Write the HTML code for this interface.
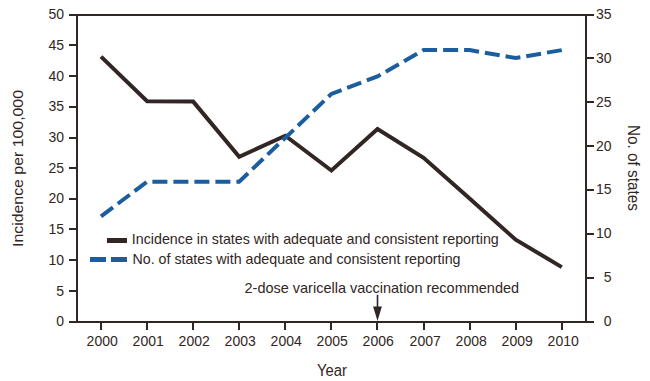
<!DOCTYPE html>
<html><head><meta charset="utf-8">
<style>
html,body{margin:0;padding:0;background:#fff;width:650px;height:381px;overflow:hidden}
svg{display:block}
text{font-family:"Liberation Sans",sans-serif;fill:#312624}
</style></head>
<body>
<svg width="650" height="381" viewBox="0 0 650 381">
<g stroke="#312624" stroke-width="2" fill="none" shape-rendering="crispEdges">
  <!-- frame -->
  <path d="M69 15H594M69 322H594M77 15V322M586 15V322"/>
  <!-- left ticks -->
  <path d="M69 45H77M69 76H77M69 107H77M69 138H77M69 168H77M69 199H77M69 229H77M69 260H77M69 291H77"/>
  <!-- right ticks -->
  <path d="M586 58H594M586 102H594M586 146H594M586 190H594M586 234H594M586 278H594"/>
  <!-- bottom ticks -->
  <path d="M101 322V330M147 322V330M193 322V330M239 322V330M285 322V330M331 322V330M377 322V330M424 322V330M470 322V330M516 322V330M562 322V330"/>
</g>
<path d="M377.5 294.8V309" stroke="#312624" stroke-width="1.6"/>
<path d="M373.1 306.6L381.9 306.6L377.5 321Z" fill="#312624"/>

<!-- incidence line -->
<polyline fill="none" stroke="#312624" stroke-width="4" stroke-linejoin="miter"
  points="101.0,56.6 147.1,101.2 193.2,101.6 239.2,156.8 285.3,135.7 331.4,170.5 377.5,129.1 423.6,157.8 469.6,198.6 515.7,239.7 561.8,267.1"/>
<!-- states line -->
<polyline fill="none" stroke="#1a5e9f" stroke-width="4" stroke-dasharray="15 6" stroke-linejoin="miter"
  points="101.0,216.4 147.1,181.7 193.2,181.7 239.2,181.7 285.3,137.8 331.4,93.9 377.5,76.4 423.6,50.1 469.6,50.1 515.7,58.0 561.8,50.1"/>

<!-- legend -->
<path d="M107 240.5H127" stroke="#312624" stroke-width="5"/>
<path d="M90 259.5H106M111 259.5H127" stroke="#1a5e9f" stroke-width="5"/>

<g font-size="14">
  <g text-anchor="end">
    <text x="64" y="19">50</text>
    <text x="64" y="50">45</text>
    <text x="64" y="81">40</text>
    <text x="64" y="111">35</text>
    <text x="64" y="142">30</text>
    <text x="64" y="173">25</text>
    <text x="64" y="203.4">20</text>
    <text x="64" y="233.6">15</text>
    <text x="64" y="265">10</text>
    <text x="64" y="296">5</text>
    <text x="64" y="326">0</text>
  </g>
  <g text-anchor="end">
    <text x="611.6" y="19">35</text>
    <text x="611.6" y="63">30</text>
    <text x="611.6" y="107">25</text>
    <text x="611.6" y="151">20</text>
    <text x="611.6" y="194.2">15</text>
    <text x="611.6" y="238.2">10</text>
    <text x="611.6" y="282">5</text>
    <text x="611.6" y="326">0</text>
  </g>
  <g text-anchor="middle">
    <text x="102.2" y="346">2000</text>
    <text x="148.2" y="346">2001</text>
    <text x="194.2" y="346">2002</text>
    <text x="240.2" y="346">2003</text>
    <text x="286.2" y="346">2004</text>
    <text x="332.2" y="346">2005</text>
    <text x="378.2" y="346">2006</text>
    <text x="425.2" y="346">2007</text>
    <text x="471.2" y="346">2008</text>
    <text x="517.2" y="346">2009</text>
    <text x="563.2" y="346">2010</text>
  </g>
  <text x="131.8" y="244" font-size="14.5" textLength="367" lengthAdjust="spacingAndGlyphs">Incidence in states with adequate and consistent reporting</text>
  <text x="132.5" y="264" font-size="14.5" textLength="328" lengthAdjust="spacingAndGlyphs">No. of states with adequate and consistent reporting</text>
  <text x="244.5" y="293" font-size="14.5" textLength="274.6" lengthAdjust="spacingAndGlyphs">2-dose varicella vaccination recommended</text>
</g>
<g font-size="16">
  <text x="317" y="376" textLength="30" lengthAdjust="spacingAndGlyphs">Year</text>
  <text font-size="15.3" transform="translate(23,168.5) rotate(-90)" text-anchor="middle" textLength="157" lengthAdjust="spacingAndGlyphs">Incidence per 100,000</text>
  <text transform="translate(628,168) rotate(90)" text-anchor="middle" textLength="86" lengthAdjust="spacingAndGlyphs">No. of states</text>
</g>
</svg>
</body></html>
